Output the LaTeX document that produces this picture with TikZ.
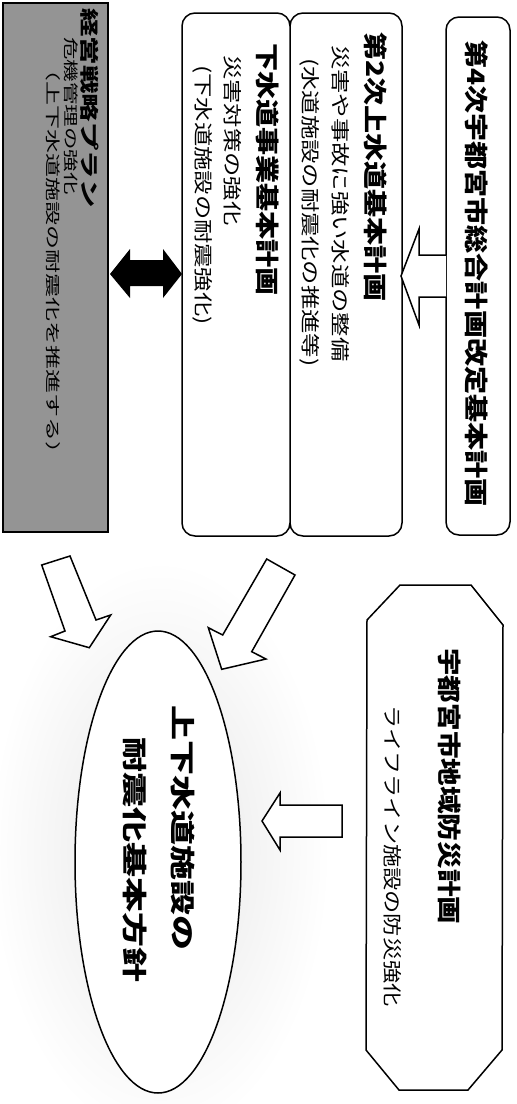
\documentclass[tikz,border=0pt]{standalone}
\usepackage{fontspec}
\setmainfont{Noto Sans CJK JP}
\usepackage{graphicx}
\usetikzlibrary{shapes.geometric}
\newcommand{\hsc}[2]{\scalebox{#1}[1]{#2}}
\tikzset{
  rbox/.style={draw, line width=1.5pt, rounded corners=13pt, fill=white, inner sep=0pt},
  graybox/.style={draw, line width=1.5pt, fill=black!42, inner sep=0pt},
  blk/.style={draw, line width=1.5pt, fill=white, line join=miter},
  txt/.style={rotate=-90, anchor=west, inner sep=0pt},
  ttl/.style={txt, font=\fontsize{24}{26}\selectfont\bfseries},
  bdy/.style={txt, font=\fontsize{19}{21}\selectfont},
  gttl/.style={txt, font=\fontsize{19}{21}\selectfont\bfseries},
  gbdy/.style={txt, font=\fontsize{15}{17}\selectfont},
  etxt/.style={txt, font=\fontsize{25}{27}\selectfont\bfseries},
}
\begin{document}
\begin{tikzpicture}[x=1pt, y=-1pt]
\useasboundingbox (0,0) rectangle (517,1104);
\fill[white] (0,0) rectangle (517,1104);

% faint halo around goal ellipse
\shade[inner color=black!10, outer color=white] (160,850) ellipse [x radius=170pt, y radius=290pt];

% boxes
\node[rbox, minimum width=64pt, minimum height=518pt] (p4) at (478,276) {};
\node[rbox, minimum width=112pt, minimum height=523pt] (w2) at (346,274.5) {};
\node[rbox, minimum width=108pt, minimum height=523pt] (sw) at (236,274.5) {};
\node[graybox, minimum width=105pt, minimum height=529pt] (gp) at (55.5,267.5) {};

% texts in boxes
\node[ttl] (p4t) at (477,40) {\hsc{1.17}{第4次宇都宮市総合計画改定基本計画}};

\node[ttl] (w2t) at (376,32) {\hsc{1.17}{第2次上水道基本計画}};
\node[bdy] (w2a) at (341,45) {\hsc{1.28}{災害や事故に強い水道の整備}};
\node[bdy] (w2b) at (310,58) {\hsc{1.28}{(水道施設の耐震化の推進等)}};

\node[ttl] (swt) at (268,43) {\hsc{1.17}{下水道事業基本計画}};
\node[bdy] (swa) at (233,55) {\hsc{1.28}{災害対策の強化}};
\node[bdy] (swb) at (203,65) {\hsc{1.28}{(下水道施設の耐震強化)}};

\node[gttl] (gpt) at (90,8) {\hsc{1.5}{経営戦略プラン}};
\node[gbdy] (gpa) at (71,37) {\hsc{1.5}{危機管理の強化}};
\node[gbdy] (gpb) at (53,57) {\hsc{1.6}{（上下水道施設の耐震化を推進する）}};

% octagon
\draw[line width=1.5pt, fill=white, line join=miter]
  (367,620) -- (400,585) -- (471,585) -- (503,625) -- (502,1050)
  -- (468,1090) -- (399,1090) -- (366,1050) -- cycle;
\coordinate (oc) at (435,837);
\node[ttl] (oct) at (450,648) {\hsc{1.15}{宇都宮市地域防災計画}};
\node[bdy] (oca) at (393,705) {\hsc{1.22}{ライフライン施設の防災強化}};

% goal ellipse
\node[draw, ellipse, line width=1.5pt, fill=white, minimum width=166pt, minimum height=462pt, inner sep=0pt] (goal) at (158,862) {};
\node[etxt] (g1) at (183,705) {\hsc{1.4}{上下水道施設の}};
\node[etxt] (g2) at (135,737) {\hsc{1.4}{耐震化基本方針}};

% block arrow p4 -> w2
\draw[blk] (446,255) -- (419,255) -- (419,229) -- (401,276) -- (419,325) -- (419,297) -- (446,297);

% double arrow gp <-> sw
\fill (110,274) -- (130,249) -- (130,260) -- (163,260) -- (163,249) -- (182,274)
  -- (163,298) -- (163,286) -- (130,286) -- (130,298) -- cycle;

% diagonal arrows to goal
\draw[blk] (41.7,565) -- (70,556) -- (96,620) -- (110.7,615) -- (89.3,647.7)
  -- (50.7,636.7) -- (65,631) -- cycle;
\draw[blk] (266.7,559) -- (295,575) -- (251.7,651.7) -- (266,659) -- (221.7,669.3)
  -- (208.3,627.7) -- (222.7,635) -- cycle;

% arrow from octagon to goal
\draw[blk] (262,821) -- (280,793) -- (280,805) -- (342,805) -- (342,837)
  -- (280,837) -- (280,850) -- cycle;
\end{tikzpicture}
\end{document}
